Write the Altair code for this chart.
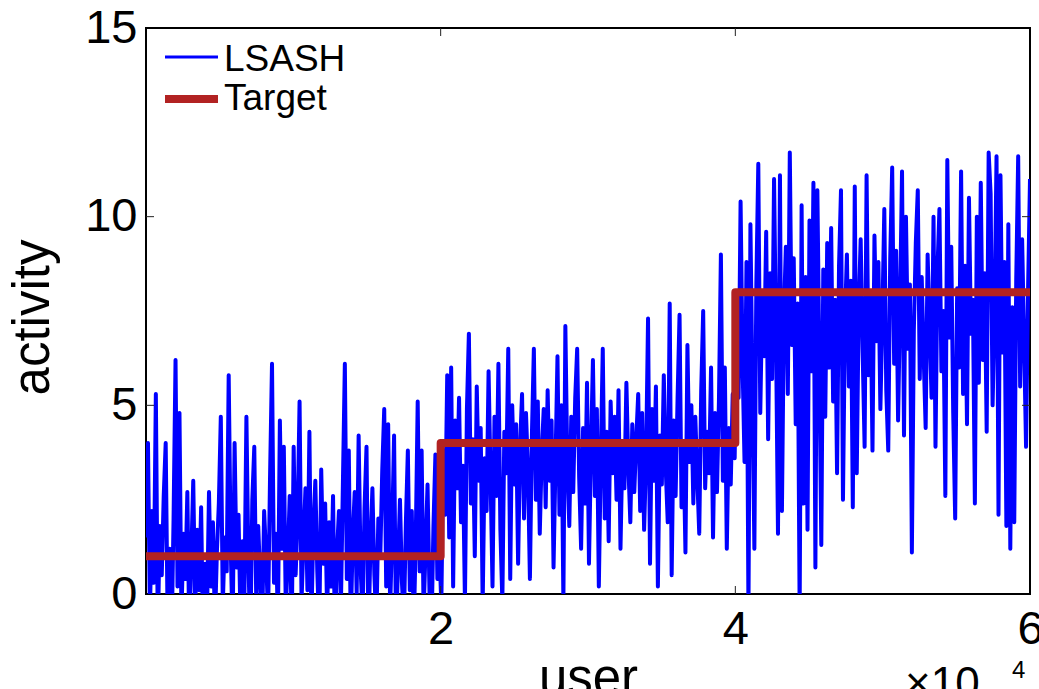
import altair as alt
import numpy as np
import pandas as pd

# ---------------- data ----------------
# LSASH estimate, users 0..6 (x 10^4), three segments of 150 samples each
lsash_seg1 = [
    1.5, 4.0, -0.5, 2.2, 0.3, 5.3, -1.0, 1.8, 0.5, 2.6,
    4.0, -0.8, 1.2, -1.2, 2.0, 6.2, 0.2, 4.8, -0.6, 1.6,
    0.4, 2.7, -1.1, 1.0, 3.0, -0.4, 1.7, 0.1, 2.3, -1.3,
    0.8, -0.5, 2.7, 0.2, 1.9, -0.9, 1.1, 2.4, 4.7, -0.3,
    1.5, 0.6, 5.8, 1.3, -1.0, 4.0, 0.7, 2.1, -0.7, 1.4,
    0.0, 4.7, 0.9, -1.2, 2.5, 3.9, -0.2, 1.8, 0.4, -0.9,
    2.2, 1.0, -0.6, 3.1, 6.1, 0.3, 1.6, -0.8, 4.6, 1.2,
    3.9, -0.4, 0.9, 2.6, -1.1, 3.9, 0.5, 2.0, 5.1, -0.2,
    1.4, 2.8, 0.1, 4.3, -0.7, 1.7, 3.0, 0.6, -1.0, 3.3,
    0.8, 2.4, -0.5, 1.9, 0.2, 2.6, -1.3, 1.1, 2.2, -0.3,
    2.9, 6.1, 0.4, 3.8, -0.9, 1.5, 2.7, 0.0, 4.2, 0.7,
    -0.6, 2.3, 3.9, -1.2, 1.3, 2.8, 0.5, -0.8, 2.0, 1.0,
    3.3, 4.9, 0.2, 4.5, -0.4, 1.6, 4.2, -1.1, 0.8, 2.5,
    0.3, -0.7, 1.9, 3.8, 0.1, 2.2, -0.9, 1.4, 5.1, 0.6,
    3.8, -0.5, 1.2, 2.9, 0.0, -1.0, 1.8, 3.7, 0.4, 1.3,
]
lsash_seg2 = [
    -0.3, 3.8, 2.1, 5.8, 1.5, 6.0, 0.2, 4.6, 2.8, 5.2,
    1.9, 3.4, -0.2, 4.9, 6.9, 2.4, 4.1, 1.0, 5.5, 3.0,
    4.4, -0.3, 3.6, 2.2, 5.9, 3.1, 0.2, 4.7, 2.6, 6.1,
    1.7, -0.2, 4.3, 3.2, 6.5, 0.4, 5.0, 2.9, 4.5, 0.8,
    3.9, 5.3, 2.0, 4.8, 3.3, 0.4, 4.2, 6.5, 2.5, 5.1,
    1.6, 3.7, 4.9, 2.3, 5.4, 3.0, 4.6, 0.7, 3.5, 6.3,
    2.1, 5.0, -0.2, 7.1, 3.4, 1.8, 4.7, 2.7, 5.2, 6.5,
    3.1, 1.2, 4.4, 2.4, 5.6, 0.8, 3.8, 6.2, 2.6, 4.9,
    0.2, 3.6, 6.5, 2.0, 4.3, 1.4, 5.1, 3.2, 4.7, 2.5,
    5.4, 1.2, 3.9, 2.8, 5.6, 3.4, 1.9, 4.5, 2.7, 4.1,
    5.3, 2.2, 4.8, 1.7, 3.6, 7.3, 0.8, 4.9, 3.0, 5.5,
    0.2, 4.2, 2.9, 5.8, 3.3, 1.9, 7.7, 0.5, 4.6, 2.6,
    5.2, 7.4, 2.3, 4.0, 1.1, 6.6, 3.5, 5.0, 2.4, 4.7,
    3.1, 1.6, 5.4, 7.5, 2.8, 4.3, 3.2, 6.0, 1.5, 4.8,
    2.7, 5.1, 9.0, 3.0, 6.0, 1.2, 4.4, 2.9, 5.3, 3.6,
]
lsash_seg3 = [
    7.5, 5.2, 10.4, 6.1, 3.5, 8.8, -0.5, 9.8, 5.6, 1.2,
    8.2, 11.4, 4.8, 7.9, 6.3, 9.6, 4.1, 8.5, 5.7, 11.0,
    6.8, 1.6, 11.1, 2.2, 7.4, 9.2, 5.3, 11.7, 6.6, 8.9,
    4.5, 7.7, -0.5, 10.3, 2.4, 8.4, 1.7, 9.9, 5.9, 10.9,
    0.7, 10.7, 6.2, 1.3, 8.6, 4.7, 9.3, 6.0, 9.7, 5.1,
    7.8, 3.2, 8.7, 10.7, 2.5, 7.2, 9.0, 5.5, 8.3, 2.3,
    10.8, 3.2, 7.6, 9.4, 6.4, 3.9, 11.1, 5.8, 8.0, 3.8,
    9.5, 6.7, 8.8, 4.9, 7.3, 10.2, 5.4, 3.8, 8.9, 11.3,
    6.1, 9.1, 4.6, 7.7, 11.2, 4.2, 10.0, 6.5, 8.2, 1.1,
    7.0, 9.3, 10.7, 5.7, 8.4, 6.3, 4.4, 9.0, 7.1, 5.2,
    10.0, 3.9, 8.6, 10.2, 5.9, 7.5, 2.6, 11.5, 6.8, 9.2,
    4.8, 2.0, 8.1, 6.0, 11.2, 5.3, 8.7, 4.5, 10.5, 6.9,
    7.8, 2.4, 10.0, 5.6, 10.9, 6.2, 8.5, 4.3, 11.7, 10.6,
    5.0, 7.4, 11.6, 2.1, 11.1, 6.4, 8.8, 1.8, 9.8, 1.2,
    7.6, 1.9, 8.3, 11.6, 5.5, 9.4, 6.7, 3.9, 8.0, 11.0,
]

# Target: a step function
target_breaks = [0, 2, 4, 6]       # user (x 10^4)
target_levels = [1, 4, 8]          # activity

x_ticks = [2, 4, 6]
y_ticks = [0, 5, 10, 15]
legend_labels = ["LSASH", "Target"]

# ---------------- tables ----------------
lsash_vals = lsash_seg1 + lsash_seg2 + lsash_seg3
users = np.linspace(target_breaks[0], target_breaks[-1], len(lsash_vals))
df_lsash = pd.DataFrame({"user": users, "activity": lsash_vals})

tx, ty = [], []
for k, lvl in enumerate(target_levels):
    tx += [target_breaks[k], target_breaks[k + 1]]
    ty += [lvl, lvl]
df_target = pd.DataFrame({"user": tx, "activity": ty})

df_yt = pd.DataFrame({"activity": [t for t in y_ticks if 0 < t < 15]})
df_xt = pd.DataFrame({"user": [t for t in x_ticks if 0 < t < 6]})

W, H = 884, 566
FONT = "Liberation Sans"
BLUE = "#0000FF"
RED = "#B22222"

xscale = alt.Scale(domain=[0, 6], nice=False, zero=False)
yscale = alt.Scale(domain=[0, 15], nice=False, zero=False)

xaxis = alt.Axis(values=x_ticks, title="user", ticks=False, domain=False, grid=False,
                 labelFontSize=47, labelFont=FONT, labelColor="black", labelPadding=12,
                 labelFlush=False, labelOverlap=False,
                 titleFont=FONT, titleFontSize=51, titleFontWeight="normal", titleColor="black",
                 titleY=100, titleBaseline="alphabetic")
yaxis = alt.Axis(values=y_ticks, title="activity", ticks=False, domain=False, grid=False,
                 labelFontSize=47, labelFont=FONT, labelColor="black", labelPadding=9,
                 labelFlush=False, labelOverlap=False,
                 titleFont=FONT, titleFontSize=51, titleFontWeight="normal", titleColor="black",
                 titleX=-98, titleY=289, titleAngle=270, titleBaseline="alphabetic")

X = alt.X("user:Q", scale=xscale, axis=xaxis, title="user")
Y = alt.Y("activity:Q", scale=yscale, axis=yaxis, title="activity")

blue = alt.Chart(df_lsash).mark_line(color=BLUE, strokeWidth=4, strokeJoin="round",
                                     clip=True).encode(x=X, y=Y)
red = alt.Chart(df_target).mark_line(color=RED, strokeWidth=8, strokeJoin="round",
                                     clip=True).encode(x=X, y=Y)

# inward tick marks on all four sides
tl = alt.Chart(df_yt).mark_rule(color="#222222", strokeWidth=1).encode(
    y=Y, x=alt.value(0), x2=alt.value(8))
tr = alt.Chart(df_yt).mark_rule(color="#222222", strokeWidth=1).encode(
    y=Y, x=alt.value(W - 8), x2=alt.value(W))
tb = alt.Chart(df_xt).mark_rule(color="#222222", strokeWidth=1).encode(
    x=X, y=alt.value(H - 8), y2=alt.value(H))
tt = alt.Chart(df_xt).mark_rule(color="#222222", strokeWidth=1).encode(
    x=X, y=alt.value(0), y2=alt.value(8))

# legend (drawn by hand, MATLAB style, no box)
one = pd.DataFrame({"k": [0]})
leg_b = alt.Chart(one).mark_rule(color=BLUE, strokeWidth=3).encode(
    x=alt.value(19), x2=alt.value(72), y=alt.value(29))
leg_r = alt.Chart(one).mark_rule(color=RED, strokeWidth=8).encode(
    x=alt.value(19), x2=alt.value(72), y=alt.value(71))
leg_t1 = alt.Chart(one).mark_text(text=legend_labels[0], font=FONT, fontSize=37, color="black",
                                  align="left", baseline="alphabetic").encode(
    x=alt.value(78), y=alt.value(43))
leg_t2 = alt.Chart(one).mark_text(text=legend_labels[1], font=FONT, fontSize=37, color="black",
                                  align="left", baseline="alphabetic").encode(
    x=alt.value(78), y=alt.value(82))

# exponent label at bottom right
exp_a = alt.Chart(one).mark_text(text="\u00d710", font=FONT, fontSize=44, color="black",
                                 align="left", baseline="alphabetic").encode(
    x=alt.value(759), y=alt.value(670))
exp_b = alt.Chart(one).mark_text(text="4", font=FONT, fontSize=24, color="black",
                                 align="left", baseline="alphabetic").encode(
    x=alt.value(866), y=alt.value(650))

chart = alt.layer(blue, red, tl, tr, tb, tt, leg_b, leg_r, leg_t1, leg_t2, exp_a, exp_b).properties(
    width=W, height=H,
    padding={"left": 146, "top": 28, "right": 9, "bottom": 95},
    autosize=alt.AutoSizeParams(type="none"),
    background="white",
).configure_view(stroke="black", strokeWidth=2)

chart.save("out.html", embed_options={"renderer": "svg", "actions": False})
